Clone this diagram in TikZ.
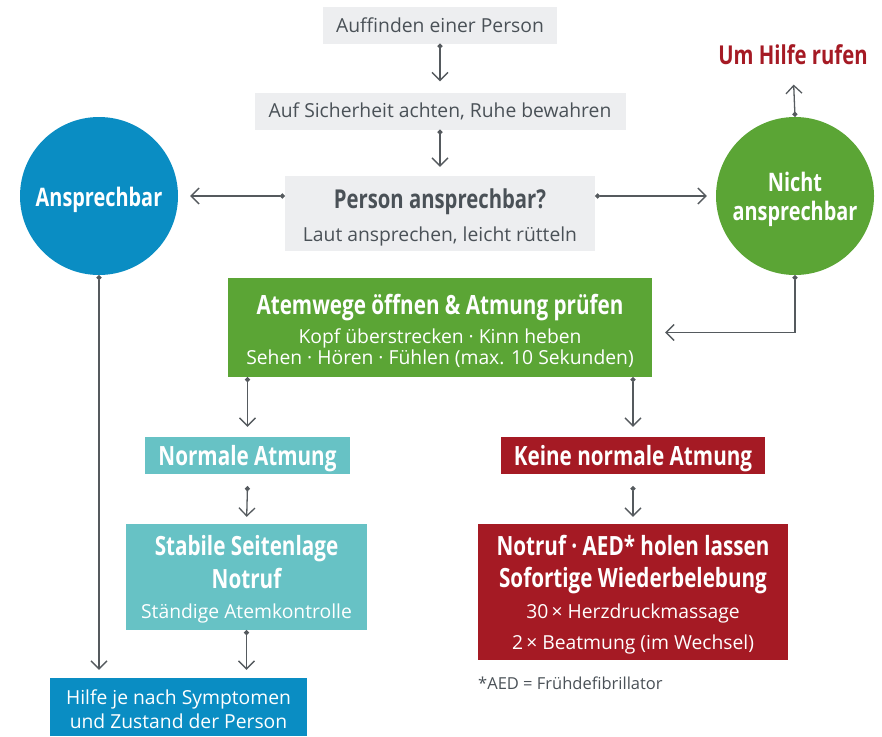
\documentclass[tikz,border=0pt]{standalone}
\usepackage{fontspec}
\setmainfont{Open Sans}
\newfontfamily\headfont{Open Sans}[FakeStretch=0.78]
\newcommand\headsize[1]{\headfont\bfseries\fontsize{#1}{#1}\selectfont}
\newcommand\lift[1]{\rule{0pt}{#1}}
\usepackage{xcolor}
\definecolor{boxgray}{HTML}{EDEEF0}
\definecolor{textgray}{HTML}{4A5157}
\definecolor{linegray}{HTML}{555A5E}
\definecolor{aidblue}{HTML}{0A8DC3}
\definecolor{aidgreen}{HTML}{5BA535}
\definecolor{aidteal}{HTML}{67C2C5}
\definecolor{aidred}{HTML}{A51A24}
\usetikzlibrary{arrows.meta, positioning}

\begin{document}
\begin{tikzpicture}[
    x=1pt, y=-1pt,
    box/.style={rectangle, fill=#1, inner sep=0pt, align=center, text=white, font=\fontsize{19.3}{21}\selectfont},
    graybox/.style={box=boxgray, text=textgray},
    disc/.style={circle, fill=#1, minimum size=158pt, inner sep=0pt, align=center, text=white, font=\headsize{25.5}},
    head/.style={font=\headsize{#1}},
    arrow/.style={{Circle[length=5pt]}-{Straight Barb[length=8pt, width=16pt]}, line width=1.3pt, draw=linegray},
]
    \useasboundingbox (0,0) rectangle (882,736);

    % top chain
    \node[graybox, minimum width=234pt, minimum height=37pt] (find) at (440,25) {Auffinden einer Person};
    \node[graybox, minimum width=371pt, minimum height=37pt] (safe) at (440,111) {Auf Sicherheit achten, Ruhe bewahren};
    \node[graybox, minimum width=310pt, minimum height=75pt] (ask) at (440,213.5)
        {{\headsize{26}\lift{26.8pt}Person ansprechbar?}\\[12pt] Laut ansprechen, leicht rütteln};

    % both answers
    \node[disc=aidblue, text height=27.4pt] (yes) at (99,196) {Ansprechbar};
    \node[disc=aidgreen] (no) at (795,196) {\lift{26.4pt}Nicht\\[3pt]ansprechbar};
    \node[head=26, text=aidred] (call) at (793,55) {Um Hilfe rufen};

    % airway check
    \node[box=aidgreen, minimum width=424pt, minimum height=99pt] (airway) at (440,327.5)
        {{\headsize{26.5}\lift{26.4pt}Atemwege öffnen \& Atmung prüfen}\\[7pt] Kopf überstrecken · Kinn heben\\ Sehen · Hören · Fühlen (max. 10 Sekunden)};

    % normal breathing
    \node[box=aidteal, minimum width=205pt, minimum height=37pt, head=26.5, text height=26pt] (normal) at (247.5,455.5) {Normale Atmung};
    \node[box=aidteal, minimum width=241pt, minimum height=106pt] (recover) at (246.5,577)
        {{\headsize{26.5}\lift{24pt}Stabile Seitenlage}\\[5pt] {\headsize{26.5}Notruf}\\[9pt] Ständige Atemkontrolle};
    \node[box=aidblue, minimum width=257pt, minimum height=58pt] (help) at (178.5,707)
        {\lift{18.7pt}Hilfe je nach Symptomen\\[3pt] und Zustand der Person};

    % no normal breathing
    \node[box=aidred, minimum width=264pt, minimum height=37pt, head=26.5, text height=26pt] (abnormal) at (633,455.5) {Keine normale Atmung};
    \node[box=aidred, minimum width=310pt, minimum height=136pt] (cpr) at (633,592)
        {{\headsize{26.5}\lift{26pt}Notruf · AED* holen lassen}\\[11pt] {\headsize{26.5}Sofortige Wiederbelebung}\\[9pt] 30\,× Herzdruckmassage\\[10pt] 2\,× Beatmung (im Wechsel)};
    \node[anchor=west, inner sep=0pt, text=textgray, font=\fontsize{16.5}{18}\selectfont] (note) at (478,683) {*AED = Frühdefibrillator};

    % connectors
    \draw[arrow, shorten >=11pt] (find) -- (safe);
    \draw[arrow, shorten >=9pt] (safe) -- (ask);
    \draw[arrow, shorten >=12pt] (yes.east -| ask.west) -- (yes.east);
    \draw[arrow, shorten >=9pt] (no.west -| ask.east) -- (no.west);
    \draw[arrow, shorten >=16pt] (no.north) -- (call.south);
    \draw[arrow, shorten >=13pt] (no.south) |- ([yshift=-5pt]airway.east);
    \draw[arrow, shorten >=10pt] (normal.north |- airway.south) -- (normal.north);
    \draw[arrow, shorten >=10pt] (abnormal.north |- airway.south) -- (abnormal.north);
    \draw[arrow, shorten >=7pt] ([yshift=-12pt]normal.south) -- (recover.north);
    \draw[arrow, shorten >=7pt] ([yshift=-12pt]abnormal.south) -- (cpr.north);
    \draw[arrow, shorten >=8pt] (recover.south) -- (recover.south |- help.north);
    \draw[arrow, shorten >=8pt] (yes.south) -- (yes.south |- help.north);
\end{tikzpicture}
\end{document}
